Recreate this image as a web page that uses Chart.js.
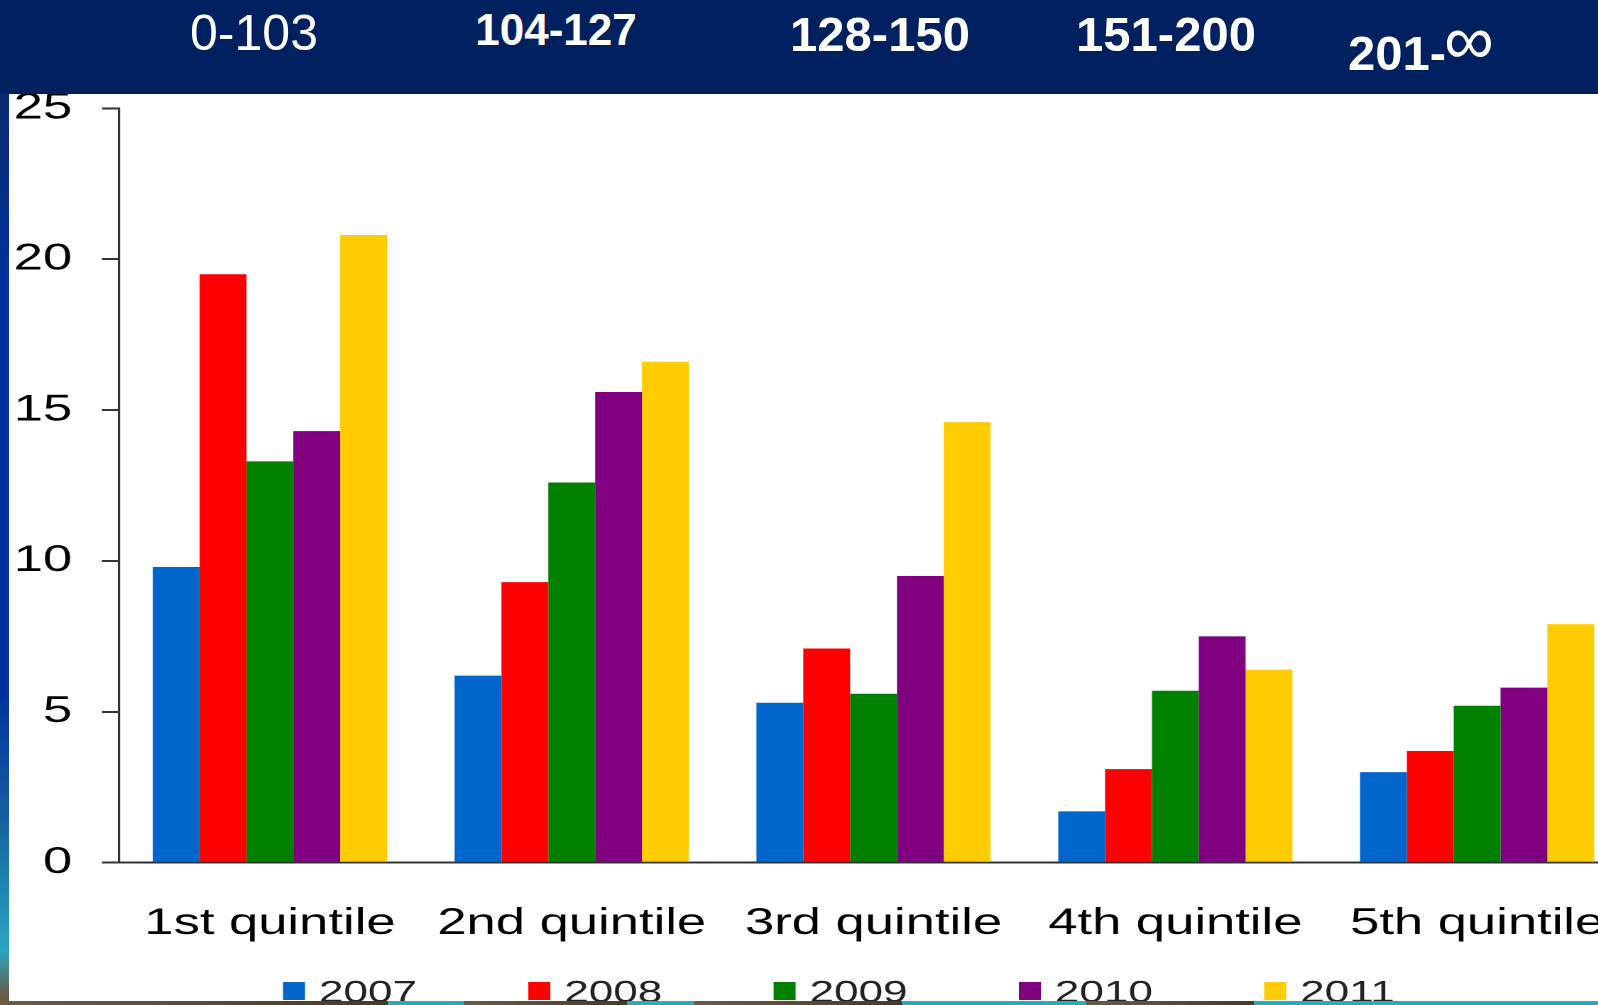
<!DOCTYPE html>
<html>
<head>
<meta charset="utf-8">
<script src="https://cdn.jsdelivr.net/npm/chart.js@4.4.1/dist/chart.umd.min.js"></script>
<style>
  html, body { margin:0; padding:0; background:#fff; overflow:hidden; width:1598px; height:1005px; }
  #wrap { position:absolute; left:0; top:0; width:1160px; height:1005px; transform-origin:0 0; }
  #header { position:absolute; left:0; top:0; width:1598px; height:94px; background:#00205f; z-index:2; }
  .band { position:absolute; color:#fff; font-family:'Liberation Sans', Arial, sans-serif; line-height:1; white-space:nowrap; }
  #leftStrip { position:absolute; left:0; top:94px; width:9px; height:911px; z-index:2;
    background:linear-gradient(to bottom, #0a2a6e 0%, #00339c 22%, #00339c 66%, #17629f 80%, #2aa6c2 94%, #6b5a45 99%); }
  #bottomStrip { position:absolute; left:0; top:1001px; width:1598px; height:4px; z-index:2;
    background:linear-gradient(to right, #6b5a45 0, #4b3a22 388px, #22aec0 388px, #22aec0 464px, #6b5a45 464px, #4b3a22 627px,
      #22aec0 627px, #22aec0 694px, #6b5a45 694px, #4b3a22 902px, #22aec0 902px, #22aec0 1086px, #6b5a45 1086px, #4b3a22 1254px,
      #22aec0 1254px, #22aec0 1598px); }
</style>
</head>
<body>
<div id="header">
  <div class="band" style="left:254px; top:8px; font-size:50px; transform:translateX(-50%);">0-103</div>
  <div class="band" style="left:556px; top:8px; font-size:44px; font-weight:bold; transform:translateX(-50%);">104-127</div>
  <div class="band" style="left:880px; top:10px; font-size:49px; font-weight:bold; transform:translateX(-50%);">128-150</div>
  <div class="band" style="left:1166px; top:10px; font-size:49px; font-weight:bold; transform:translateX(-50%);">151-200</div>
  <div class="band" style="left:1348px; top:29px; font-size:49px; font-weight:bold;">201-</div>
  <div class="band" style="left:1444px; top:5px; font-size:70px;">&#8734;</div>
</div>
<div id="leftStrip"></div>
<div id="bottomStrip"></div>
<div id="wrap"><canvas id="quintile_chart" width="1160" height="1005"></canvas></div>
<script>
// the slide stretches the whole chart sideways, so it is drawn narrow and widened
const STRETCH = 1.42;

const categories = ['1st quintile', '2nd quintile', '3rd quintile', '4th quintile', '5th quintile'];
const years = ['2007', '2008', '2009', '2010', '2011'];
const s2007 = [9.8, 6.2, 5.3, 1.7, 3.0];
const s2008 = [19.5, 9.3, 7.1, 3.1, 3.7];
const s2009 = [13.3, 12.6, 5.6, 5.7, 5.2];
const s2010 = [14.3, 15.6, 9.5, 7.5, 5.8];
const s2011 = [20.8, 16.6, 14.6, 6.4, 7.9];
const yTicks = [0, 5, 10, 15, 20, 25];

const colors = ['#0066cc', '#ff0000', '#008000', '#800080', '#ffcc00'];
const FONT = "'Liberation Sans', Arial, sans-serif";

document.getElementById('wrap').style.transform = 'scaleX(' + STRETCH + ')';

// legend row under the axis labels, squares then year text
const yearLegend = {
  id: 'yearLegend',
  afterDraw(chart) {
    const ctx = chart.ctx;
    ctx.save();
    ctx.font = '31px ' + FONT;
    ctx.textBaseline = 'alphabetic';
    ctx.textAlign = 'left';
    chart.data.datasets.forEach((ds, i) => {
      const x = (283 + 245.3 * i) / STRETCH;
      ctx.fillStyle = ds.backgroundColor;
      ctx.fillRect(x, 982, 22 / STRETCH, 18);
      ctx.fillStyle = '#222';
      ctx.fillText(ds.label, (319 + 245.3 * i) / STRETCH, 1002);
    });
    ctx.restore();
  }
};

const series = [s2007, s2008, s2009, s2010, s2011];
const datasets = years.map((y, i) => ({
  label: y,
  data: series[i],
  backgroundColor: colors[i],
  borderWidth: 0,
  categoryPercentage: 0.776,
  barPercentage: 1.0
}));

let quintile_chart = false;
const createQuintileChart = () => {
  const ctx = document.getElementById('quintile_chart').getContext('2d');
  quintile_chart = new Chart(ctx, {
    type: 'bar',
    data: { labels: categories, datasets: datasets },
    plugins: [yearLegend],
    options: {
      responsive: false,
      animation: false,
      devicePixelRatio: 2,
      layout: { padding: { left: 0, right: 13.5, top: 108.3, bottom: 50.3 } },
      plugins: { legend: { display: false }, tooltip: { enabled: false } },
      scales: {
        x: {
          grid: { display: false, drawTicks: false },
          border: { display: true, color: '#333', width: 2 },
          // tall line height pushes the labels down without adding side padding
          ticks: { color: '#000', font: { family: FONT, size: 37, lineHeight: 3.31 }, padding: 0, maxRotation: 0, autoSkip: false },
          afterFit: (scale) => { scale.height = 92; }
        },
        y: {
          min: 0,
          max: 25,
          afterBuildTicks: (scale) => { scale.ticks = yTicks.map(v => ({ value: v })); },
          grid: { drawOnChartArea: false, drawTicks: true, tickLength: 12, color: '#333', lineWidth: 2 },
          border: { display: true, color: '#333', width: 1.6 },
          ticks: { color: '#000', font: { family: FONT, size: 37 }, padding: 21 },
          afterFit: (scale) => { scale.width = 119 / STRETCH; }
        }
      }
    }
  });
};

createQuintileChart();
</script>
</body>
</html>
